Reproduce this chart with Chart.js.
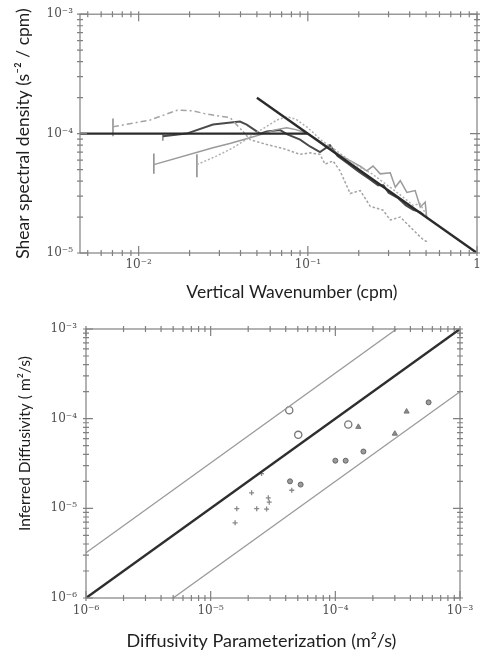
<!DOCTYPE html>
<html>
<head>
<meta charset="utf-8">
<script src="https://cdn.jsdelivr.net/npm/chart.js@4/dist/chart.umd.min.js"></script>
<style>
  html, body { margin: 0; padding: 0; background: #fff; }
  #wrap { position: relative; width: 487px; height: 659px; }
  #spec { position: absolute; left: 0; top: 0; }
  #diff { position: absolute; left: 0; top: 310px; }
</style>
</head>
<body>
<div id="wrap">
  <canvas id="spec" width="487" height="310"></canvas>
  <canvas id="diff" width="487" height="349"></canvas>
</div>
<script>
// ---- shear spectra: vertical wavenumber (cpm) vs spectral density (s^-2/cpm)
const gmFlatK = [0.0045, 0.1];
const gmFlatS = [1e-4, 1e-4];
const gmSlopeK = [0.05, 1];
const gmSlopeS = [2e-4, 1e-5];

// dash-dot profile (turns dotted past ~0.04 cpm)
const kA = [0.00705, 0.0117, 0.0169, 0.021, 0.0245, 0.03, 0.0347, 0.0414, 0.0456, 0.0572, 0.0715, 0.09, 0.103, 0.118, 0.1265, 0.141, 0.155, 0.178, 0.204, 0.234, 0.279, 0.307, 0.352, 0.42, 0.481, 0.508];
const sA = [1.14e-4, 1.3e-4, 1.57e-4, 1.55e-4, 1.47e-4, 1.4e-4, 1.36e-4, 1.04e-4, 8.9e-5, 8.1e-5, 7.5e-5, 6.7e-5, 6.9e-5, 6.7e-5, 5.55e-5, 5.9e-5, 4.87e-5, 3.15e-5, 3.33e-5, 2.46e-5, 2.28e-5, 1.89e-5, 2.0e-5, 1.56e-5, 1.29e-5, 1.24e-5];

// thin grey profile
const kB = [0.0123, 0.0275, 0.035, 0.045, 0.055, 0.065, 0.075, 0.085, 0.1, 0.115, 0.13, 0.15, 0.175, 0.204, 0.223, 0.243, 0.268, 0.307, 0.329, 0.352, 0.385, 0.431, 0.462, 0.494, 0.505];
const sB = [5.5e-5, 7.6e-5, 8.3e-5, 9.2e-5, 1.0e-4, 1.08e-4, 1.12e-4, 1.08e-4, 1.0e-4, 8.8e-5, 7.8e-5, 6.8e-5, 6.0e-5, 5.35e-5, 4.87e-5, 5.35e-5, 4.6e-5, 4.7e-5, 3.55e-5, 4.03e-5, 3.22e-5, 3.33e-5, 2.42e-5, 2.67e-5, 1.95e-5];

// dotted profile
const kC = [0.0221, 0.029, 0.0361, 0.0414, 0.0474, 0.0544, 0.0656, 0.0751, 0.085, 0.1, 0.12, 0.14, 0.17, 0.2, 0.24, 0.28, 0.32, 0.37, 0.42, 0.46, 0.5];
const sC = [5.5e-5, 6.5e-5, 7.6e-5, 8.6e-5, 9.8e-5, 1.1e-4, 1.3e-4, 1.38e-4, 1.32e-4, 1.12e-4, 8.8e-5, 7.6e-5, 6.2e-5, 5.3e-5, 4.6e-5, 3.9e-5, 3.4e-5, 2.9e-5, 2.5e-5, 2.6e-5, 2.1e-5];

// dark profile
const kD = [0.0139, 0.0192, 0.0275, 0.0397, 0.0435, 0.0522, 0.0572, 0.0686, 0.0751, 0.09, 0.103, 0.118, 0.135, 0.15, 0.17, 0.2, 0.23, 0.26, 0.28, 0.3, 0.34, 0.38, 0.42, 0.46, 0.48];
const sD = [9.5e-5, 1.0e-4, 1.19e-4, 1.26e-4, 1.19e-4, 1.0e-4, 1.04e-4, 1.07e-4, 9.9e-5, 8.9e-5, 7.8e-5, 7.0e-5, 8.0e-5, 6.5e-5, 5.7e-5, 4.8e-5, 4.2e-5, 3.7e-5, 3.7e-5, 3.2e-5, 2.9e-5, 2.5e-5, 2.3e-5, 2.2e-5, 2.1e-5];

// lowest resolved wavenumber of each profile (short vertical bars)
const startK = [0.00705, 0.0123, 0.0221, 0.0139];
const startLo = [9.5e-5, 4.6e-5, 4.3e-5, 8.7e-5];
const startHi = [1.34e-4, 6.8e-5, 6.7e-5, 1.0e-4];

const specXTicks = [0.01, 0.1, 1];
const specXLabels = ['10⁻²', '10⁻¹', '1'];
const specYTicks = [1e-5, 1e-4, 1e-3];
const specYLabels = ['10⁻⁵', '10⁻⁴', '10⁻³'];

// ---- diffusivity comparison (m^2/s)
const unityX = [1e-6, 1e-3];
const unityY = [1e-6, 1e-3];
const upperX = [1e-6, 3.1e-4];
const upperY = [3.2e-6, 1e-3];
const lowerX = [5e-6, 1e-3];
const lowerY = [1e-6, 2e-4];

const openX = [4.27e-5, 5.04e-5, 1.27e-4];
const openY = [1.24e-4, 6.6e-5, 8.6e-5];
const triX = [1.53e-4, 3.0e-4, 3.73e-4];
const triY = [8.1e-5, 6.8e-5, 1.2e-4];
const dotX = [5.6e-4, 1.68e-4, 1.0e-4, 1.21e-4, 4.33e-5, 5.27e-5];
const dotY = [1.52e-4, 4.3e-5, 3.4e-5, 3.4e-5, 2.0e-5, 1.84e-5];
const crossX = [2.56e-5, 4.47e-5, 2.13e-5, 2.9e-5, 2.95e-5, 1.62e-5, 2.34e-5, 2.81e-5, 1.57e-5];
const crossY = [2.44e-5, 1.59e-5, 1.49e-5, 1.31e-5, 1.17e-5, 9.9e-6, 9.9e-6, 9.8e-6, 6.9e-6];

const diffTicks = [1e-6, 1e-5, 1e-4, 1e-3];
const diffLabels = ['10⁻⁶', '10⁻⁵', '10⁻⁴', '10⁻³'];


const pts = (xs, ys) => xs.map((v, i) => ({x: v, y: ys[i]}));

// 1..9 x 10^n positions inside [min, max]
function logSteps(min, max) {
    const out = [];
    for (let e = Math.floor(Math.log10(min)); e <= Math.ceil(Math.log10(max)); e++) {
        for (let m = 1; m <= 9; m++) {
            const v = m * Math.pow(10, e);
            if (v >= min * 0.999 && v <= max * 1.001) out.push({v: v, major: m === 1});
        }
    }
    return out;
}

// box round the plot with crossing tick marks on all four sides
const frameTicks = {
    id: 'frameTicks',
    afterDatasetsDraw(chart) {
        const {ctx, chartArea: a} = chart;
        const x = chart.scales.x, y = chart.scales.y;
        ctx.save();
        ctx.strokeStyle = '#808080';
        ctx.lineWidth = 1.2;
        ctx.strokeRect(a.left, a.top, a.right - a.left, a.bottom - a.top);
        ctx.beginPath();
        logSteps(x.min, x.max).forEach(t => {
            const px = x.getPixelForValue(t.v);
            const inner = t.major ? 7 : 3;
            ctx.moveTo(px, a.bottom + 3); ctx.lineTo(px, a.bottom - inner);
            ctx.moveTo(px, a.top - 3); ctx.lineTo(px, a.top + inner);
        });
        logSteps(y.min, y.max).forEach(t => {
            const py = y.getPixelForValue(t.v);
            const inner = t.major ? 7 : 3;
            ctx.moveTo(a.left - 3, py); ctx.lineTo(a.left + inner, py);
            ctx.moveTo(a.right + 3, py); ctx.lineTo(a.right - inner, py);
        });
        ctx.stroke();
        ctx.restore();
    }
};

const tickFont = {family: 'DejaVu Serif', size: 12};

function logAxis(min, max, values, labels, size, pad, title, titleSize, titlePad) {
    return {
        type: 'logarithmic',
        min: min,
        max: max,
        grid: {display: false, drawTicks: false},
        border: {display: false},
        afterBuildTicks: s => { s.ticks = values.map(v => ({value: v})); },
        afterFit: s => { if (s.isHorizontal()) s.height = size; else s.width = size; },
        ticks: {
            font: tickFont, color: '#505050', padding: pad,
            maxRotation: 0, autoSkip: false,
            callback: (v, i) => labels[i]
        },
        title: {
            display: true, text: title, color: '#1e1e1e', padding: titlePad,
            font: {family: 'Lato', size: titleSize}
        }
    };
}

const line = (data, color, width, dash) => ({
    data: data, borderColor: color, borderWidth: width, borderDash: dash || [],
    pointRadius: 0, fill: false, tension: 0, showLine: true
});

const dashDot = line(pts(kA, sA), '#a4a4a4', 1.5);
dashDot.segment = {borderDash: c => c.p0.parsed.x < 0.04 ? [6, 3, 2, 3] : [2.5, 2]};

const specSets = [
    line(pts(gmFlatK, gmFlatS), '#2b2b2b', 2.4),
    line(pts(gmSlopeK, gmSlopeS), '#2b2b2b', 2.4),
    dashDot,
    line(pts(kC, sC), '#b0b0b0', 1.5, [2, 2]),
    line(pts(kB, sB), '#9a9a9a', 1.5),
    line(pts(kD, sD), '#4a4a4a', 2)
];
startK.forEach((k, i) => {
    specSets.push(line([{x: k, y: startLo[i]}, {x: k, y: startHi[i]}], '#777', 1.3));
});

new Chart(document.getElementById('spec'), {
    type: 'scatter',
    data: {datasets: specSets},
    options: {
        responsive: false,
        animation: false,
        layout: {padding: {left: 0, right: 10, top: 10, bottom: 0}},
        plugins: {legend: {display: false}, tooltip: {enabled: false}},
        scales: {
            x: logAxis(0.0045, 1, specXTicks, specXLabels, 57, 5,
                '      Vertical Wavenumber (cpm)', 17.5, {top: 0, bottom: 7.5}),
            y: logAxis(1e-5, 1e-3, specYTicks, specYLabels, 80, 7,
                'Shear spectral density (s⁻² / cpm)', 17.5, {top: 12.5, bottom: 0})
        }
    },
    plugins: [frameTicks]
});

const marks = (data, style, radius, fillC, edgeC, width) => ({
    data: data, pointStyle: style, pointRadius: radius,
    backgroundColor: fillC, borderColor: edgeC, pointBorderWidth: width, showLine: false
});

new Chart(document.getElementById('diff'), {
    type: 'scatter',
    data: {
        datasets: [
            line(pts(upperX, upperY), '#9a9a9a', 1.3),
            line(pts(lowerX, lowerY), '#9a9a9a', 1.3),
            line(pts(unityX, unityY), '#2e2e2e', 2.4),
            marks(pts(openX, openY), 'circle', 3.6, '#ffffff', '#777', 1.3),
            marks(pts(triX, triY), 'triangle', 3, '#8a8a8a', '#777', 1),
            marks(pts(dotX, dotY), 'circle', 2.5, '#9a9a9a', '#666', 1),
            marks(pts(crossX, crossY), 'cross', 2.5, '#888', '#888', 1.3)
        ]
    },
    options: {
        responsive: false,
        animation: false,
        layout: {padding: {left: 0, right: 27, top: 19, bottom: 0}},
        plugins: {legend: {display: false}, tooltip: {enabled: false}},
        scales: {
            x: logAxis(1e-6, 1e-3, diffTicks, diffLabels, 61, 6,
                'Diffusivity Parameterization (m²/s)     ', 18, {top: 0, bottom: 7}),
            y: logAxis(1e-6, 1e-3, diffTicks, diffLabels, 86, 9,
                '          Inferred Diffusivity ( m²/s)', 15.5, {top: 16, bottom: 0})
        }
    },
    plugins: [frameTicks]
});
</script>
</body>
</html>
